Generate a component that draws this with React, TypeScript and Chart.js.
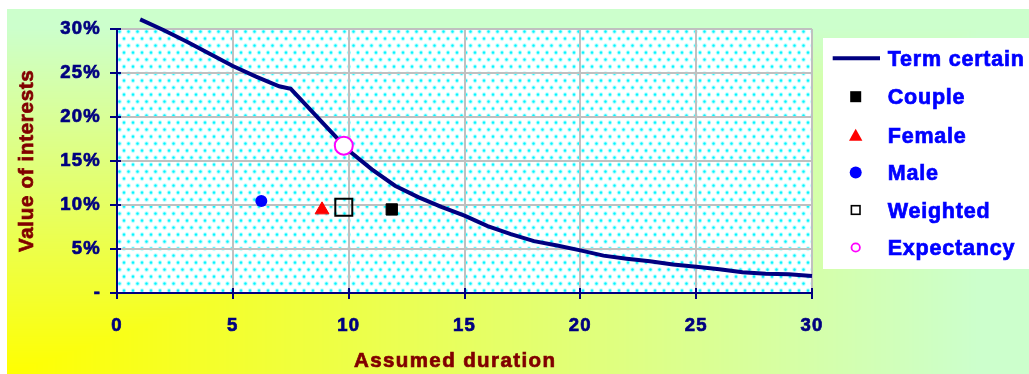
import React, { useEffect, useRef } from 'react';
import { Chart, registerables } from 'chart.js';

Chart.register(...registerables);

// Term certain curve (x = assumed duration in years, y = value of interests in %)
const termYears = [1, 2, 3, 4, 5, 6, 7, 7.5, 8, 9, 10, 11, 12, 13, 14, 15, 16, 17, 18, 19, 20, 21, 22, 23, 24, 25, 26, 27, 28, 29, 30, 30.5];
const termValues = [31.1, 29.9, 28.6, 27.2, 25.8, 24.6, 23.5, 23.2, 21.8, 19.0, 16.2, 14.05, 12.2, 10.9, 9.8, 8.8, 7.6, 6.7, 5.9, 5.4, 4.85, 4.25, 3.9, 3.6, 3.25, 2.98, 2.7, 2.35, 2.2, 2.12, 1.92, 1.73];

// Single-point series
const markerNames = ['Couple', 'Female', 'Male', 'Weighted', 'Expectancy'];
const markerX = [11.86, 8.85, 6.23, 9.79, 9.79];
const markerY = [9.5, 9.45, 10.45, 9.74, 16.75];

const xTickValues = [0, 5, 10, 15, 20, 25, 30];
const yTickValues = [0, 5, 10, 15, 20, 25, 30];
const lineLabel = 'Term certain';
const xTitle = 'Assumed duration';
const yTitle = 'Value of interests';

const W = 1022;
const H = 365;
const NAVY = '#000080';
const FONT = "'Liberation Sans', Arial, sans-serif";

function makeBackground(w: number, h: number): HTMLCanvasElement {
  const c = document.createElement('canvas');
  c.width = w;
  c.height = h;
  const g = c.getContext('2d')!;
  const img = g.createImageData(w, h);
  for (let y = 0; y < h; y++) {
    for (let x = 0; x < w; x++) {
      const t = Math.min(1, Math.max(x / w, (h - y) / h) / 0.95);
      const i = (y * w + x) * 4;
      img.data[i] = Math.round(255 - 51 * t);
      img.data[i + 1] = 255;
      img.data[i + 2] = Math.round(204 * t);
      img.data[i + 3] = 255;
    }
  }
  g.putImageData(img, 0, 0);
  return c;
}

function makePattern(ctx: CanvasRenderingContext2D): CanvasPattern | null {
  const c = document.createElement('canvas');
  c.width = 9;
  c.height = 14;
  const g = c.getContext('2d')!;
  g.fillStyle = '#ffffff';
  g.fillRect(0, 0, 9, 14);
  const dot = (x: number, y: number) => {
    g.fillStyle = 'rgba(0,255,255,0.28)';
    g.beginPath();
    g.arc(x, y, 2.3, 0, Math.PI * 2);
    g.fill();
    g.fillStyle = '#00f4ff';
    g.beginPath();
    g.arc(x, y, 1.2, 0, Math.PI * 2);
    g.fill();
  };
  dot(2.5, 2.5);
  dot(7, 9.5);
  return ctx.createPattern(c, 'repeat');
}

function boldText(ctx: CanvasRenderingContext2D, t: string, x: number, y: number) {
  ctx.fillText(t, x, y);
  ctx.strokeText(t, x, y);
}

export default function App() {
  const ref = useRef<HTMLCanvasElement | null>(null);

  useEffect(() => {
    const canvas = ref.current;
    if (!canvas) return;
    const bg = makeBackground(W, H);
    const ctx0 = canvas.getContext('2d')!;
    const pattern = makePattern(ctx0);

    const decor = {
      id: 'decor',
      beforeDraw(chart: any) {
        const ctx = chart.ctx as CanvasRenderingContext2D;
        const a = chart.chartArea;
        ctx.save();
        ctx.drawImage(bg, 0, 0);
        ctx.translate(a.left, a.top);
        if (pattern) ctx.fillStyle = pattern;
        ctx.fillRect(0, 0, a.right - a.left, a.bottom - a.top);
        ctx.restore();
        (ctx as any).letterSpacing = '1.2px';
      },
      afterDraw(chart: any) {
        const ctx = chart.ctx as CanvasRenderingContext2D;
        const a = chart.chartArea;
        const xs = chart.scales.x;
        const ys = chart.scales.y;
        ctx.save();
        // inner tick crossings
        ctx.strokeStyle = NAVY;
        ctx.lineWidth = 2;
        ctx.beginPath();
        yTickValues.forEach((v) => {
          const p = Math.round(ys.getPixelForValue(v));
          ctx.moveTo(a.left, p);
          ctx.lineTo(a.left + 4, p);
        });
        xTickValues.forEach((v) => {
          const p = Math.round(xs.getPixelForValue(v));
          ctx.moveTo(p, a.bottom);
          ctx.lineTo(p, a.bottom - 5);
        });
        ctx.stroke();

        // axis titles
        ctx.fillStyle = '#800000';
        ctx.strokeStyle = '#800000';
        ctx.lineWidth = 0.7;
        ctx.font = `bold 20.5px ${FONT}`;
        ctx.textAlign = 'left';
        ctx.textBaseline = 'alphabetic';
        (ctx as any).letterSpacing = '1.4px';
        boldText(ctx, xTitle, 347, 357.5);
        ctx.save();
        (ctx as any).letterSpacing = '0.7px';
        ctx.translate(26, 243);
        ctx.rotate(-Math.PI / 2);
        boldText(ctx, yTitle, 0, 0);
        ctx.restore();

        // legend
        ctx.fillStyle = '#ffffff';
        ctx.fillRect(816, 29, W - 816, 231);
        const rows = [49.3, 87.7, 126.3, 163.5, 201, 238.5];
        const mx = 848.7;
        ctx.strokeStyle = NAVY;
        ctx.lineWidth = 4;
        ctx.beginPath();
        ctx.moveTo(825.7, rows[0]);
        ctx.lineTo(873, rows[0]);
        ctx.stroke();
        // Couple
        ctx.fillStyle = '#000000';
        ctx.fillRect(mx - 5.5, rows[1] - 5.5, 11, 11);
        // Female
        ctx.fillStyle = '#ff0000';
        ctx.beginPath();
        ctx.moveTo(mx, rows[2] - 6.5);
        ctx.lineTo(mx + 6.7, rows[2] + 5.5);
        ctx.lineTo(mx - 6.7, rows[2] + 5.5);
        ctx.closePath();
        ctx.fill();
        // Male
        ctx.fillStyle = '#0000ff';
        ctx.beginPath();
        ctx.arc(mx, rows[3], 6, 0, Math.PI * 2);
        ctx.fill();
        // Weighted
        ctx.strokeStyle = '#000000';
        ctx.lineWidth = 1.6;
        ctx.strokeRect(mx - 4.3, rows[4] - 4.3, 8.6, 8.6);
        // Expectancy
        ctx.strokeStyle = '#ff00ff';
        ctx.lineWidth = 1.8;
        ctx.beginPath();
        ctx.arc(mx, rows[5], 4.2, 0, Math.PI * 2);
        ctx.stroke();

        ctx.fillStyle = '#0000ff';
        ctx.strokeStyle = '#0000ff';
        ctx.lineWidth = 0.7;
        ctx.font = `bold 21.5px ${FONT}`;
        (ctx as any).letterSpacing = '0.8px';
        const labels = [lineLabel, ...markerNames];
        labels.forEach((t, i) => {
          boldText(ctx, t, 880.7, rows[i] + 7.6);
        });
        ctx.restore();
        (ctx as any).letterSpacing = '0px';
      },
    };

    const tickFont = { family: FONT, weight: 'bold', size: 18.5 };

    const chart = new Chart(canvas, {
      type: 'scatter',
      data: {
        datasets: [
          {
            label: lineLabel,
            data: termYears.map((x, i) => ({ x, y: termValues[i] })),
            showLine: true,
            borderColor: NAVY,
            backgroundColor: NAVY,
            borderWidth: 4,
            pointRadius: 0,
            tension: 0,
            clip: false as any,
            order: 1,
          },
          {
            label: markerNames[0],
            data: [{ x: markerX[0], y: markerY[0] }],
            pointStyle: 'rect',
            pointRadius: 8,
            backgroundColor: '#000000',
            borderColor: '#000000',
            borderWidth: 1,
            order: 0,
          },
          {
            label: markerNames[1],
            data: [{ x: markerX[1], y: markerY[1] }],
            pointStyle: 'triangle',
            pointRadius: 8,
            backgroundColor: '#ff0000',
            borderColor: '#ff0000',
            borderWidth: 1,
            order: 0,
          },
          {
            label: markerNames[2],
            data: [{ x: markerX[2], y: markerY[2] }],
            pointStyle: 'circle',
            pointRadius: 6,
            backgroundColor: '#0000ff',
            borderColor: '#0000ff',
            borderWidth: 0,
            order: 0,
          },
          {
            label: markerNames[3],
            data: [{ x: markerX[3], y: markerY[3] }],
            pointStyle: 'rect',
            pointRadius: 12,
            backgroundColor: 'rgba(0,0,0,0)',
            borderColor: '#000000',
            borderWidth: 2,
            order: 0,
          },
          {
            label: markerNames[4],
            data: [{ x: markerX[4], y: markerY[4] }],
            pointStyle: 'circle',
            pointRadius: 9,
            backgroundColor: '#ffffff',
            borderColor: '#ff00ff',
            borderWidth: 2,
            order: 0,
          },
        ],
      },
      options: {
        responsive: false,
        animation: false,
        events: [],
        layout: { padding: { top: 20, right: 217, left: 0, bottom: 0 } },
        plugins: {
          legend: { display: false },
          tooltip: { enabled: false },
          title: { display: false },
        },
        scales: {
          x: {
            type: 'linear',
            min: 0,
            max: 30,
            afterFit: (s: any) => {
              s.height = 81;
            },
            afterBuildTicks: (s: any) => {
              s.ticks = xTickValues.map((v) => ({ value: v }));
            },
            grid: {
              color: '#c0c0c0',
              lineWidth: 2,
              tickColor: NAVY,
              tickLength: 6,
              tickWidth: 2,
            },
            border: { color: NAVY, width: 2 },
            ticks: {
              color: NAVY,
              padding: 16,
              maxRotation: 0,
              textStrokeColor: NAVY,
              textStrokeWidth: 0.7,
              font: tickFont,
              callback: (v: any) => String(v),
            },
          },
          y: {
            type: 'linear',
            min: 0,
            max: 30,
            afterFit: (s: any) => {
              s.width = 110;
            },
            afterBuildTicks: (s: any) => {
              s.ticks = yTickValues.map((v) => ({ value: v }));
            },
            grid: {
              color: '#c0c0c0',
              lineWidth: 2,
              tickColor: NAVY,
              tickLength: 7,
              tickWidth: 2,
            },
            border: { color: NAVY, width: 2 },
            ticks: {
              color: NAVY,
              padding: 9,
              textStrokeColor: NAVY,
              textStrokeWidth: 0.7,
              font: tickFont,
              callback: (v: any) => (Number(v) === 0 ? '-' : `${v}%`),
            },
          },
        },
      },
      plugins: [decor],
    } as any);

    return () => {
      chart.destroy();
    };
  }, []);

  return (
    <div style={{ position: 'fixed', left: 7, top: 9, width: W, height: H }}>
      <canvas ref={ref} width={W} height={H} style={{ display: 'block', width: W, height: H }} />
    </div>
  );
}
